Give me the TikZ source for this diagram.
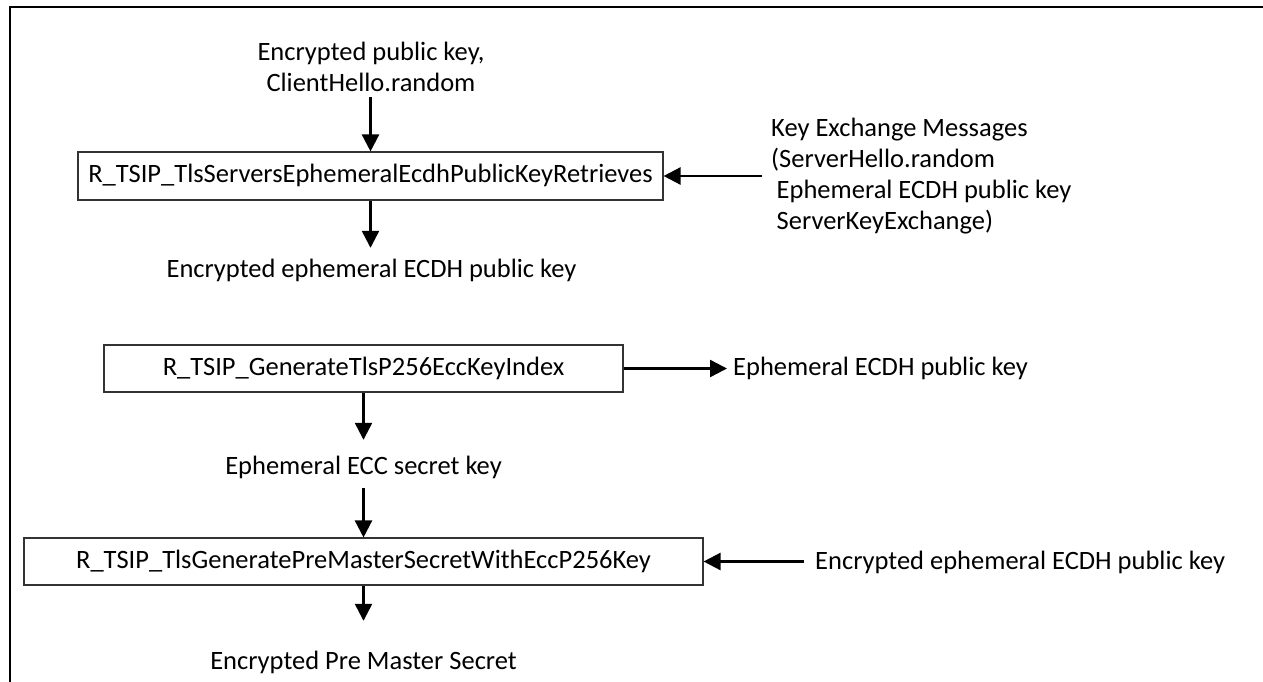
\documentclass[tikz,border=0pt]{standalone}
\usepackage{fontspec}
\setmainfont{Carlito}
\usetikzlibrary{arrows.meta}
\begin{document}
\begin{tikzpicture}[x=1pt,y=-1pt,
  lbl/.style={font=\fontsize{26.5}{31}\selectfont, inner sep=0pt, text height=19pt, text depth=6pt},
  mlbl/.style={font=\fontsize{26.5}{31}\selectfont, inner sep=0pt},
  fbox/.style={draw=black!80, line width=1.1pt, inner sep=0pt, text height=19pt, text depth=6pt,
               font=\fontsize{26.5}{31}\selectfont},
  arr/.style={line width=2.4pt, -{Triangle[length=17pt,width=17pt]}}]
\useasboundingbox (0,0) rectangle (1263,682);
\draw[line width=2pt] (10,682) -- (10,7.5) -- (1263,7.5);

% top block
\node[mlbl, align=center] (cin) at (371,67) {Encrypted public key,\\ClientHello.random};
\node[fbox, minimum width=585pt, minimum height=48pt] (box1) at (370.5,176) {R\_TSIP\_TlsServersEphemeralEcdhPublicKeyRetrieves};
\node[mlbl, align=left, anchor=west] (kx) at (771,176) {Key Exchange Messages\\(ServerHello.random\\\hspace*{5.5pt}Ephemeral ECDH public key\\\hspace*{5.5pt}ServerKeyExchange)};
\node[lbl] (e1) at (371.5,270.5) {Encrypted ephemeral ECDH public key};

% middle block
\node[fbox, minimum width=519pt, minimum height=47pt] (box2) at (363.5,368.5) {R\_TSIP\_GenerateTlsP256EccKeyIndex};
\node[lbl, anchor=west] (ek) at (733,369) {Ephemeral ECDH public key};
\node[lbl] (esk) at (363.5,467.5) {Ephemeral ECC secret key};

% bottom block
\node[fbox, minimum width=679pt, minimum height=47pt] (box3) at (363.5,561.5) {R\_TSIP\_TlsGeneratePreMasterSecretWithEccP256Key};
\node[lbl, anchor=west] (e2) at (815,563) {Encrypted ephemeral ECDH public key};
\node[lbl] (pms) at (363.5,662.5) {Encrypted Pre Master Secret};

% connectors
\draw[arr, shorten <=5pt] (cin.south -| box1.north) -- (box1.north);
\draw[arr, shorten >=10pt] (box1.south) -- (box1.south |- e1.north);
\draw[arr, shorten <=9pt] (kx.west |- box1.east) -- (box1.east);
\draw[arr, shorten >=6pt] (box2.east) -- (ek.west |- box2.east);
\draw[arr, shorten >=15pt] (box2.south) -- (box2.south |- esk.north);
\draw[arr, shorten <=8pt] (esk.south) -- (box3.north);
\draw[arr, shorten <=11pt] (e2.west |- box3.east) -- (box3.east);
\draw[arr, shorten >=29pt] (box3.south) -- (box3.south |- pms.north);
\end{tikzpicture}
\end{document}
